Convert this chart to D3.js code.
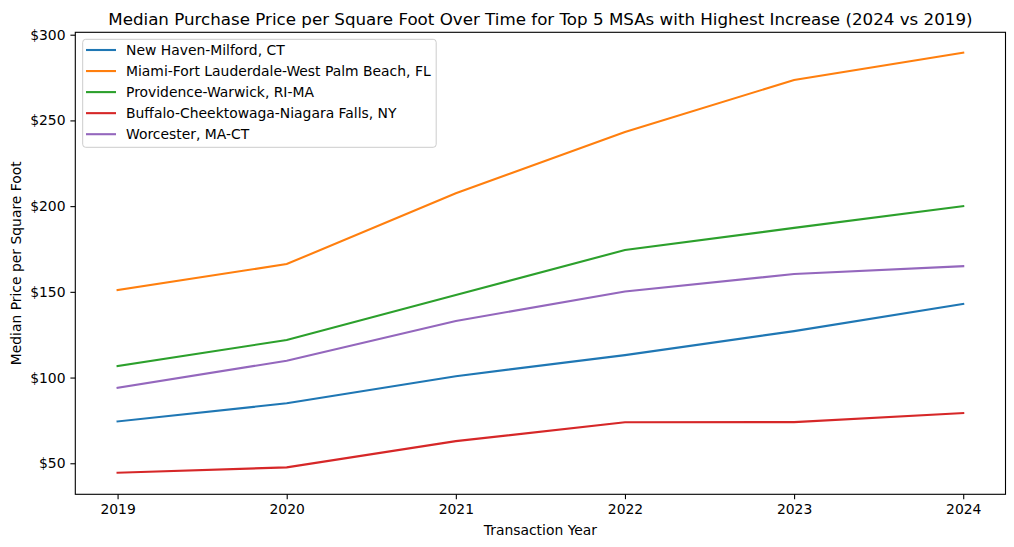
<!DOCTYPE html>
<html><head><meta charset="utf-8">
<script src="https://cdn.jsdelivr.net/npm/d3@7"></script>
<style>body{margin:0;background:#fff;} text{font-family:"DejaVu Sans",sans-serif;}</style>
</head><body>
<svg id="c" width="1014" height="547"></svg>
<script>
const years = [2019, 2020, 2021, 2022, 2023, 2024];
const seriesNames = ["New Haven-Milford, CT","Miami-Fort Lauderdale-West Palm Beach, FL","Providence-Warwick, RI-MA","Buffalo-Cheektowaga-Niagara Falls, NY","Worcester, MA-CT"];
const newHaven = [74.4, 85.0, 100.8, 113.1, 127.1, 143.0];
const miami = [151.0, 166.2, 207.5, 243.2, 273.6, 289.5];
const providence = [106.7, 121.9, 148.1, 174.4, 187.3, 200.0];
const buffalo = [44.5, 47.6, 62.9, 73.9, 74.0, 79.3];
const worcester = [94.0, 109.8, 133.0, 150.2, 160.4, 165.0];
const yTicks = [50, 100, 150, 200, 250, 300];
const colors = ["#1f77b4","#ff7f0e","#2ca02c","#d62728","#9467bd"];
const allSeries = [newHaven, miami, providence, buffalo, worcester];

const svg = d3.select("#c");
const L = 75.3, R = 1005.5, T = 32.3, B = 494.3;
const FS = "13.9px";
const x = d3.scaleLinear().domain([2018.75, 2024.25]).range([L, R]);
const y = d3.scaleLinear().domain([31.9, 301.4]).range([B, T]);

const xAxis = svg.append("g").attr("transform", `translate(0,${B})`)
  .call(d3.axisBottom(x).tickValues(years).tickFormat(d3.format("d")).tickSizeOuter(0).tickSize(4.9).tickPadding(4.9));
const yAxis = svg.append("g").attr("transform", `translate(${L},0)`)
  .call(d3.axisLeft(y).tickValues(yTicks).tickFormat(d => "$" + d).tickSizeOuter(0).tickSize(4.9).tickPadding(4.9));
[xAxis, yAxis].forEach(a => {
  a.select(".domain").remove();
  a.selectAll("text").attr("font-size", FS).attr("fill", "#000").style("font-family", "DejaVu Sans");
  a.selectAll("line").attr("stroke", "#000").attr("stroke-width", 1.1);
});

const line = d3.line().x((d, i) => x(years[i])).y(d => y(d));
allSeries.forEach((s, k) => {
  svg.append("path").datum(s).attr("d", line).attr("fill", "none")
    .attr("stroke", colors[k]).attr("stroke-width", 2.1).attr("stroke-linecap", "square");
});

svg.append("rect").attr("x", L).attr("y", T).attr("width", R - L).attr("height", B - T)
  .attr("fill", "none").attr("stroke", "#000").attr("stroke-width", 1.1);

svg.append("text").attr("x", (L + R) / 2).attr("y", 25).attr("text-anchor", "middle")
  .attr("font-size", "16.7px").text("Median Purchase Price per Square Foot Over Time for Top 5 MSAs with Highest Increase (2024 vs 2019)");
svg.append("text").attr("x", (L + R) / 2).attr("y", 535).attr("text-anchor", "middle")
  .attr("font-size", FS).text("Transaction Year");
svg.append("text").attr("transform", `translate(21,${(T + B) / 2}) rotate(-90)`).attr("text-anchor", "middle")
  .attr("font-size", FS).text("Median Price per Square Foot");

const lg = svg.append("g");
lg.append("rect").attr("x", 82.7).attr("y", 39.3).attr("width", 353.5).attr("height", 108).attr("rx", 3)
  .attr("fill", "#fff").attr("fill-opacity", 0.8).attr("stroke", "#ccc").attr("stroke-width", 1);
seriesNames.forEach((n, k) => {
  const yy = 50 + k * 21.05;
  lg.append("line").attr("x1", 86).attr("x2", 116).attr("y1", yy).attr("y2", yy)
    .attr("stroke", colors[k]).attr("stroke-width", 2.1);
  lg.append("text").attr("x", 126).attr("y", yy + 5).attr("font-size", FS).text(n);
});
</script>
</body></html>
